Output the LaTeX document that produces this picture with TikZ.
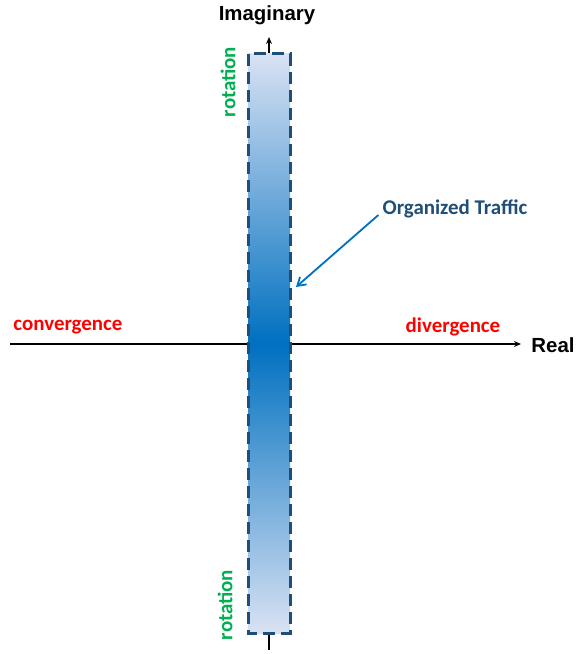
\documentclass[tikz,border=0pt]{standalone}
\usepackage{fontspec}
\setmainfont{Carlito}
\newfontfamily\axisfont{Liberation Sans}
\usetikzlibrary{arrows.meta}
\definecolor{barblue}{HTML}{0070C0}
\definecolor{barpale}{HTML}{D9E2F3}
\definecolor{navy}{HTML}{1F4E79}
\definecolor{rotgreen}{HTML}{00B050}

\begin{document}
\begin{tikzpicture}[x=1bp,y=-1bp]
\tikzset{axis/.style = {line width=1.6bp,-{Stealth[length=7bp,width=6bp]}}}
\tikzset{label/.style = {font=\bfseries\fontsize{21}{24}\selectfont, inner sep=0pt}}
\tikzset{title/.style = {font=\axisfont\bfseries\fontsize{20.5}{24}\selectfont, inner sep=0pt}}
\useasboundingbox (0,0) rectangle (576,654);

% axes
\coordinate (w) at (10,344);
\coordinate (e) at (521,344);
\coordinate (s) at (269,650);
\coordinate (n) at (269,37);
\draw[axis] (w) to (e);
\draw[axis] (s) to (n);

% band
\shade[top color=barpale, bottom color=barpale, middle color=barblue]
  (248,54) rectangle (290,633);
\draw[navy, line width=3bp, dash pattern=on 12bp off 6bp]
  (248,54) rectangle (290,633);
\coordinate (hit) at (296,287);

%labels
\node[title] (im) at (267,15) {Imaginary};
\node[title] (re) at (553,345) {Real};
\node[label, red] (conv) at (68,327) {convergence};
\node[label, red] (div) at (453,327) {divergence};
\node[label, rotgreen, rotate=90] (rt) at (228,82) {rotation};
\node[label, rotgreen, rotate=90] (rb) at (225,605) {rotation};
\node[label, navy] (ot) at (455,209) {Organized Traffic};

%arrow
\draw[barblue, line width=1.8bp, -{Straight Barb[length=8bp,width=10bp]}]
  (ot.west) ++(-4,6) coordinate (os) (os) to (hit);

\end{tikzpicture}
\end{document}
